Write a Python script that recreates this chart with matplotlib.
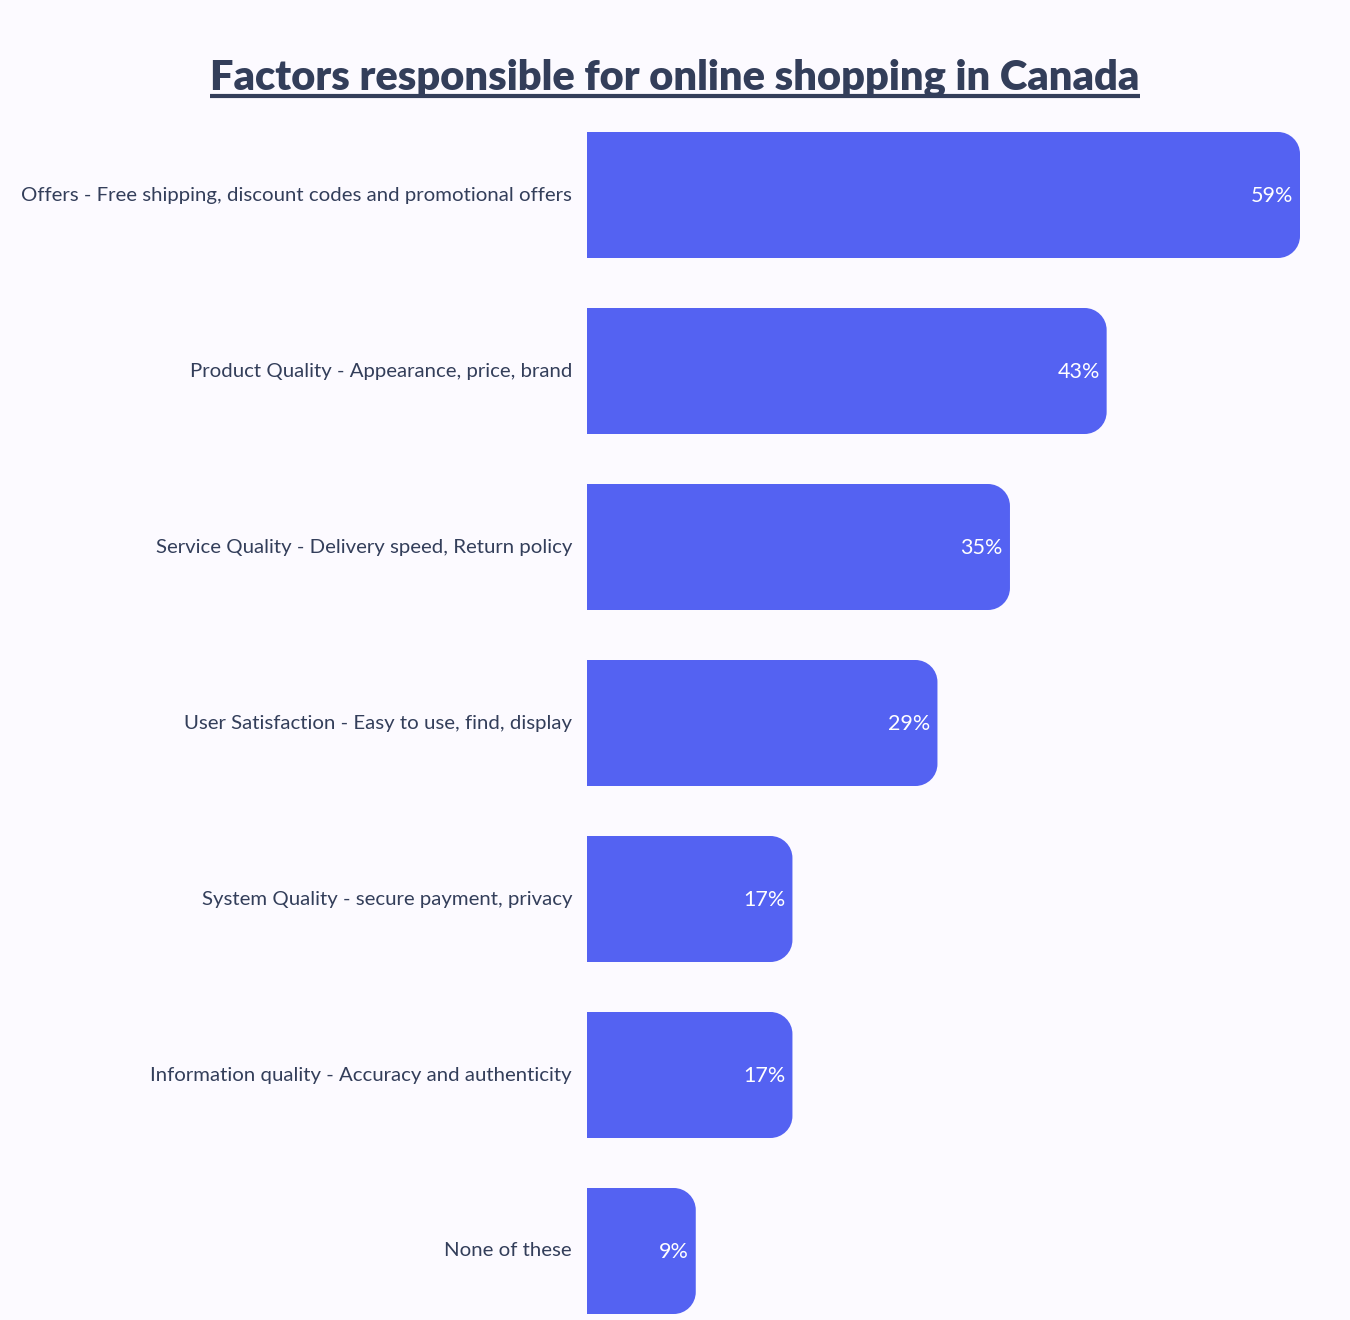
import numpy as np
import matplotlib
matplotlib.use('Agg')
from matplotlib import pyplot as plt
from matplotlib.path import Path
from matplotlib.patches import PathPatch

# Data
categories = [
    'Offers - Free shipping, discount codes and promotional offers',
    'Product Quality - Appearance, price, brand',
    'Service Quality - Delivery speed, Return policy',
    'User Satisfaction - Easy to use, find, display',
    'System Quality - secure payment, privacy',
    'Information quality - Accuracy and authenticity',
    'None of these',
]
values = [59, 43, 35, 29, 17, 17, 9]
title = 'Factors responsible for online shopping in Canada'

BG = '#fcfaff'
BAR = '#5462f2'
TXT = '#333e5a'

W, H = 1350, 1320
fig = plt.figure(figsize=(W / 100, H / 100), dpi=100, facecolor=BG)
ax_l, ax_r = 587 / W, 1300 / W
ax_t, ax_b = 1 - 132 / H, 1 - 1314 / H
ax = fig.add_axes([ax_l, ax_b, ax_r - ax_l, ax_t - ax_b])
ax.set_facecolor(BG)

bar_h = 126 / 176
n = len(values)
xmax = max(values)
ax.set_xlim(0, xmax)
ax.set_ylim(n - 1 + bar_h / 2, -bar_h / 2)

# data units per pixel
px_x = xmax / (1300 - 587)
px_y = (n - 1 + bar_h) / (1314 - 132)
rad = 22
rx, ry = rad * px_x, rad * px_y
k = 0.5523


def right_rounded(y, w, h):
    y0, y1 = y - h / 2, y + h / 2
    verts = [
        (0, y0), (w - rx, y0),
        (w - rx + k * rx, y0), (w, y0 + ry - k * ry), (w, y0 + ry),
        (w, y1 - ry),
        (w, y1 - ry + k * ry), (w - rx + k * rx, y1), (w - rx, y1),
        (0, y1), (0, y0),
    ]
    codes = [Path.MOVETO, Path.LINETO,
             Path.CURVE4, Path.CURVE4, Path.CURVE4,
             Path.LINETO,
             Path.CURVE4, Path.CURVE4, Path.CURVE4,
             Path.LINETO, Path.CLOSEPOLY]
    return Path(verts, codes)


for i, (cat, v) in enumerate(zip(categories, values)):
    ax.add_patch(PathPatch(right_rounded(i, v, bar_h), facecolor=BAR,
                           edgecolor='none'))
    ax.text(v - 7 * px_x, i + 1.5 * px_y, f'{v}%', ha='right', va='center',
            color='white', fontsize=15.5, family='Lato')
    ax.text(-15 * px_x, i, cat, ha='right', va='center', color=TXT,
            fontsize=14.7, family='Lato', clip_on=False)

ax.set_xticks([])
ax.set_yticks([])
for s in ax.spines.values():
    s.set_visible(False)

t = fig.text(0.5, 1 - 78 / H, title, ha='center', va='center',
             fontsize=30, fontweight='heavy', color=TXT, family='Lato')
fig.canvas.draw()
bb = t.get_window_extent()
uy = 1 - 96 / H
fig.add_artist(plt.Line2D([bb.x0 / W, bb.x1 / W], [uy, uy], color=TXT,
                          linewidth=3, solid_capstyle='butt'))

plt.savefig('out.png', dpi=100, facecolor=BG)
